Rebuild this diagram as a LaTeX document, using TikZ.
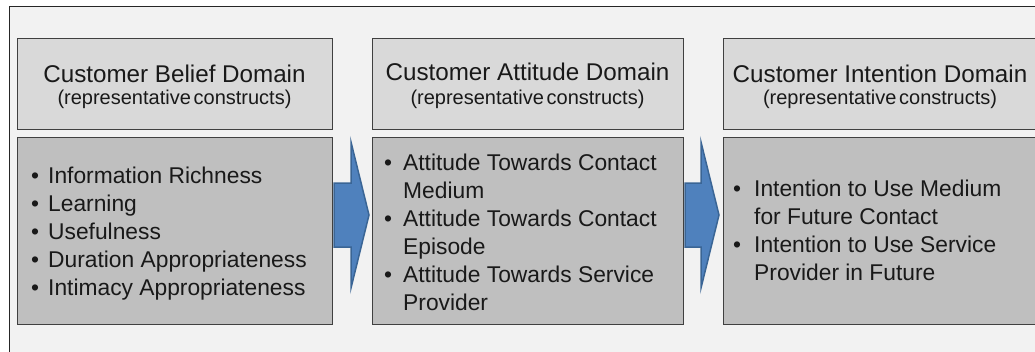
\documentclass[tikz,border=0pt]{standalone}
\usepackage{fontspec}
\setmainfont{Liberation Sans}
\definecolor{framefill}{HTML}{F2F2F2}
\definecolor{framedraw}{HTML}{262626}
\definecolor{headfill}{HTML}{D9D9D9}
\definecolor{bodyfill}{HTML}{BFBFBF}
\definecolor{boxdraw}{HTML}{404040}
\definecolor{arrowfill}{HTML}{4F81BD}
\definecolor{arrowdraw}{HTML}{3A6595}
\newcommand{\blt}[1]{\makebox[#1][l]{\textbullet}}
\newcommand{\subfnt}{\fontsize{20}{24}\selectfont\spaceskip=0.14em\relax}
\begin{document}
\begin{tikzpicture}[x=1pt,y=-1pt,
  outerframe/.style={draw=framedraw, fill=framefill, line width=1pt},
  headbox/.style={draw=boxdraw, fill=headfill, line width=1pt, anchor=north west, minimum height=91pt, inner sep=0pt},
  bodybox/.style={draw=boxdraw, fill=bodyfill, line width=1pt, anchor=north west, minimum height=187pt, inner sep=0pt},
  titletxt/.style={anchor=base, inner sep=0pt, font=\fontsize{24.2}{28}\selectfont, text=black!90},
  subtxt/.style={anchor=base, inner sep=0pt, font=\subfnt, text=black!90},
  listtxt/.style={anchor=base west, inner sep=0pt, font=\fontsize{22.8}{28}\selectfont, text=black!90},
  blockarrow/.style={fill=arrowfill, draw=arrowdraw, line width=1.5pt, line join=miter}]
\useasboundingbox (0,0) rectangle (1035,351);
\path[outerframe] (9,6) rectangle (1060,380);

% headers
\node[headbox, minimum width=315pt] (h1) at (17,38) {};
\node[headbox, minimum width=311pt] (h2) at (372,38) {};
\node[headbox, minimum width=314pt] (h3) at (723,38) {};
% bodies
\node[bodybox, minimum width=315pt] (b1) at (17,137) {};
\node[bodybox, minimum width=311pt] (b2) at (372,137) {};
\node[bodybox, minimum width=314pt] (b3) at (723,137) {};

% titles
\node[titletxt] (t1) at (174.5,82) {Customer Belief Domain};
\node[subtxt] (s1) at (174.5,104) {(representative constructs)};
\node[titletxt] (t2) at (527.5,80) {Customer Attitude Domain};
\node[subtxt] (s2) at (527.5,104) {(representative constructs)};
\node[titletxt] (t3) at (880,82) {Customer Intention Domain};
\node[subtxt] (s3) at (880,104) {(representative constructs)};

% lists
\node[listtxt] (l1) at (31,183) {\begin{tabular}[t]{@{}l@{}l@{}}
\blt{17pt} & Information Richness\\
\blt{17pt} & Learning\\
\blt{17pt} & Usefulness\\
\blt{17pt} & Duration Appropriateness\\
\blt{17pt} & Intimacy Appropriateness
\end{tabular}};
\node[listtxt] (l2) at (384,170) {\begin{tabular}[t]{@{}l@{}l@{}}
\blt{19pt} & Attitude Towards Contact\\
 & Medium\\
\blt{19pt} & Attitude Towards Contact\\
 & Episode\\
\blt{19pt} & Attitude Towards Service\\
 & Provider
\end{tabular}};
\node[listtxt] (l3) at (733,196) {\begin{tabular}[t]{@{}l@{}l@{}}
\blt{21pt} & Intention to Use Medium\\
 & for Future Contact\\
\blt{21pt} & Intention to Use Service\\
 & Provider in Future
\end{tabular}};

% block arrows
\path[blockarrow] (334,183) -- (351,183) -- (351,142) -- (369,215) -- (351,288) -- (351,247) -- (334,247) -- cycle;
\path[blockarrow] (685,183) -- (701,183) -- (701,142) -- (719,215) -- (701,288) -- (701,247) -- (685,247) -- cycle;
\end{tikzpicture}
\end{document}
